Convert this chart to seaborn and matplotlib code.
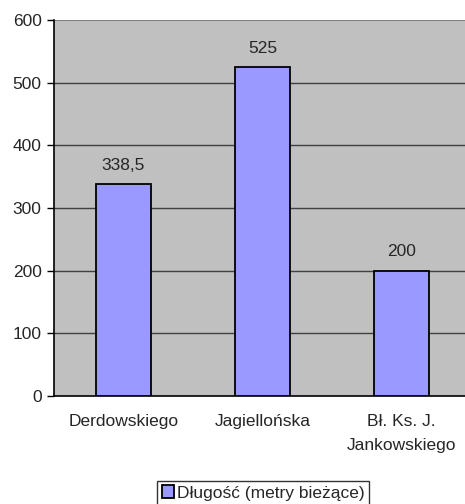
import matplotlib
matplotlib.use("Agg")
import matplotlib.pyplot as plt
import seaborn as sns
import pandas as pd
from matplotlib.patches import Patch

categories = ["Derdowskiego", "Jagiellońska", "Bł. Ks. J.\nJankowskiego"]
values = [338.5, 525, 200]
value_labels = ["338,5", "525", "200"]
series_name = "Długość (metry bieżące)"
yticks = [0, 100, 200, 300, 400, 500, 600]

sns.set_style("white")
plt.rcParams['font.family'] = ['Liberation Sans', 'DejaVu Sans']
FS = 12.5

df = pd.DataFrame({"cat": categories, "val": values})

fig = plt.figure(figsize=(4.65, 5.04), dpi=100)
ax = fig.add_axes([54/465, 108/504, 417/465, 376/504])
ax.set_facecolor("#c0c0c0")

sns.barplot(data=df, x="cat", y="val", color="#9999ff", width=0.4,
            edgecolor="black", linewidth=1.3, ax=ax, saturation=1, zorder=3)

ax.set_ylim(0, 600)
ax.set_xlim(-0.5, 2.5)
ax.set_yticks(yticks)
ax.set_yticklabels([str(t) for t in yticks], fontsize=FS)
for t in yticks[1:-1]:
    ax.axhline(t, color="#404040", lw=1.0, zorder=1)
ax.axhline(600, color="#808080", lw=1.5, zorder=1)

ax.set_xlabel("")
ax.set_ylabel("")
ax.set_xticks(range(3))
ax.set_xticklabels(categories, fontsize=FS, linespacing=1.75)
ax.tick_params(axis="x", which="major", length=0, pad=13)
ax.set_xticks([0.5, 1.5], minor=True)
ax.tick_params(axis="x", which="minor", length=5, width=1, color="black", direction="out")
ax.tick_params(axis="y", length=5, width=1, color="black", direction="out", pad=4, left=True)

for sp in ["top", "right"]:
    ax.spines[sp].set_visible(False)
ax.spines["left"].set_color("black")
ax.spines["left"].set_linewidth(1.2)
ax.spines["bottom"].set_color("black")
ax.spines["bottom"].set_linewidth(1.2)

for i, (v, lab) in enumerate(zip(values, value_labels)):
    ax.text(i, v + 18, lab, ha="center", va="bottom", fontsize=FS, zorder=4)

handle = Patch(facecolor="#9999ff", edgecolor="black", linewidth=1.3)
fig.legend([handle], [series_name], loc="center", bbox_to_anchor=(263/465, 1 - 493/504),
           frameon=True, fancybox=False, edgecolor="black", fontsize=FS,
           handlelength=0.7, handleheight=0.7, handletextpad=0.15, borderpad=0.25,
           borderaxespad=0)

fig.savefig("out.png", dpi=100)
